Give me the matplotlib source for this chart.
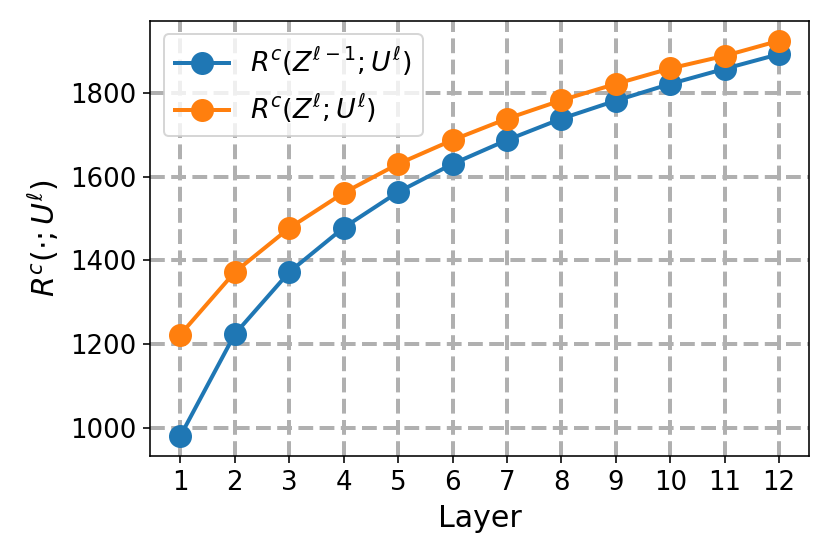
import matplotlib
matplotlib.use("Agg")
import matplotlib.pyplot as plt

# values
layers = list(range(1, 13))
r_prev = [981, 1224, 1372, 1478, 1563, 1630, 1687, 1738, 1781, 1821, 1857, 1892]
r_curr = [1223, 1372, 1477, 1561, 1630, 1687, 1738, 1782, 1821, 1858, 1888, 1924]

fig = plt.figure(figsize=(830 / 144, 554 / 144), dpi=144)
ax = fig.add_subplot(1, 1, 1)
fig.subplots_adjust(left=0.1813, right=0.9747, bottom=0.1775, top=0.9621)

ax.plot(layers, r_prev, marker='o', markersize=10.5, linewidth=2,
        label=r'$R^c(Z^{\ell-1};U^{\ell})$')
ax.plot(layers, r_curr, marker='o', markersize=10.5, linewidth=2,
        label=r'$R^c(Z^{\ell};U^{\ell})$')

ax.set_xticks(layers)
ax.tick_params(labelsize=13)
ax.set_xlabel('Layer', fontsize=15)
ax.set_ylabel(r'$R^c(\cdot;U^{\ell})$', fontsize=15)
ax.grid(linestyle='--', linewidth=2)
ax.legend(loc='upper left', fontsize=13.5)

fig.savefig('out.png', dpi=144)
